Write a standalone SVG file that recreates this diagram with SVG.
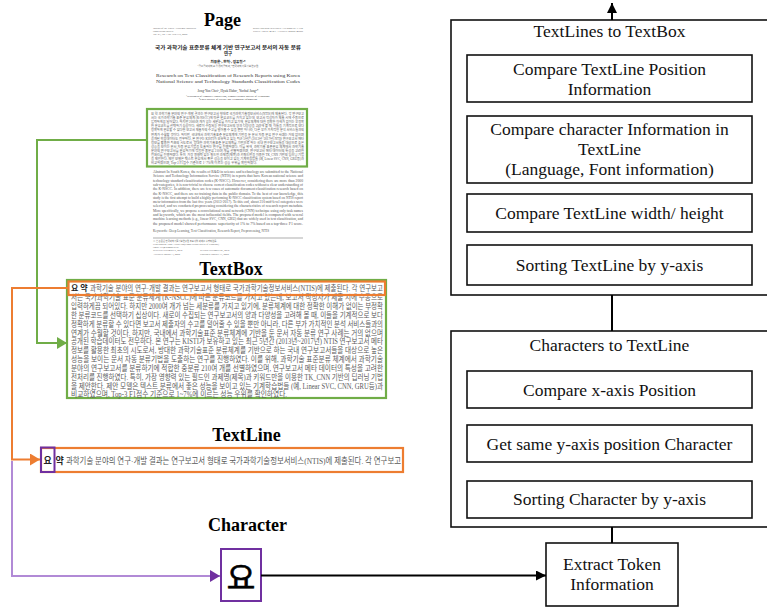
<svg xmlns="http://www.w3.org/2000/svg" width="767" height="613" viewBox="0 0 767 613">
<style>
.serif{font-family:"Liberation Serif","Times New Roman",serif}
.title{font-family:"Liberation Serif","Times New Roman",serif;font-weight:bold;font-size:18px;text-anchor:middle;fill:#000}
.lbl{font-family:"Liberation Serif","Times New Roman",serif;font-size:17.5px;text-anchor:middle;fill:#111}
.box{fill:#fff;stroke:#111;stroke-width:1.6}
.kr{font-family:"Liberation Serif","Noto Sans CJK KR",serif;fill:#5a5a5a}
.krb{font-family:"Liberation Serif","Noto Sans CJK KR",serif;fill:#222;font-weight:bold}
.tiny{font-family:"Liberation Serif","Noto Sans CJK KR",serif;fill:#666}
.conn{fill:none;stroke-width:2}
</style>
<defs>
<marker id="ag" markerUnits="userSpaceOnUse" markerWidth="11" markerHeight="12" refX="10" refY="6" orient="auto"><path d="M0,0 L10,6 L0,12 z" fill="#70AD47"/></marker>
<marker id="ao" markerUnits="userSpaceOnUse" markerWidth="11" markerHeight="12" refX="10" refY="6" orient="auto"><path d="M0,0 L10,6 L0,12 z" fill="#ED7D31"/></marker>
<marker id="ap" markerUnits="userSpaceOnUse" markerWidth="11" markerHeight="12" refX="10" refY="6" orient="auto"><path d="M0,0 L10,6 L0,12 z" fill="#7030A0"/></marker>
<marker id="ab" markerUnits="userSpaceOnUse" markerWidth="11" markerHeight="10" refX="10" refY="5" orient="auto"><path d="M0,0 L10,5 L0,10 z" fill="#000"/></marker>
</defs>
<rect width="767" height="613" fill="#fff"/>

<!-- Page -->
<g id="page">
<text class="title" x="222.5" y="26">Page</text>
<g class="tiny" font-size="2.6">
<text x="153" y="29">Journal of the Korea Academia-Industrial</text>
<text x="153" y="32">cooperation Society</text>
<text x="153" y="35">Vol. 21, No. 1 pp. 169-175, 2020</text>
<text x="253" y="29" textLength="50" lengthAdjust="spacingAndGlyphs">https://doi.org/10.5762/KAIS.2020.21.1.169</text>
<text x="253" y="32" textLength="50" lengthAdjust="spacingAndGlyphs">ISSN 1975-4701 / eISSN 2288-4688</text>
</g>
<g class="krb" font-size="4.4" text-anchor="middle" fill="#333">
<text x="228" y="49" textLength="146" lengthAdjust="spacingAndGlyphs">국가 과학기술 표준분류 체계 기반 연구보고서 문서의 자동 분류</text>
<text x="228" y="55">연구</text>
<text x="228" y="63" font-size="3.6">최종윤¹, 한혁¹, 정유철²*</text>
</g>
<text class="tiny" x="228" y="67" font-size="2.6" text-anchor="middle">¹금오공과대학교 컴퓨터공학과, ²한국과학기술정보연구원</text>
<g class="serif" fill="#333" font-size="5" text-anchor="middle">
<text x="228" y="77" textLength="144" lengthAdjust="spacingAndGlyphs">Research on Text Classification of Research Reports using Korea</text>
<text x="228" y="83" textLength="144" lengthAdjust="spacingAndGlyphs">National Science and Technology Standards Classification Codes</text>
<text x="228" y="92" font-size="3.4">Jong-Yun Choi¹, Hyuk Hahn¹, Yuchul Jung²*</text>
<text x="228" y="96.5" font-size="2.6">¹Department of Computer Engineering, Kumoh National Institute of Technology</text>
<text x="228" y="100" font-size="2.6">²Korea Institute of Science and Technology Information</text>
</g>
<g class="kr" font-size="3.4" fill="#444">
<text x="151" y="115" textLength="153" lengthAdjust="spacingAndGlyphs">요 약  과학기술 분야의 연구·개발 결과는 연구보고서 형태로 국가과학기술정보서비스(NTIS)에 제출된다. 각 연구보고</text>
<text x="151" y="119.1" textLength="153" lengthAdjust="spacingAndGlyphs">서는 국가과학기술 표준 분류체계 (K-NSCC)에 따른 분류코드를 가지고 있는데, 보고서 작성자가 제출 시에 수동으로</text>
<text x="151" y="123.2" textLength="153" lengthAdjust="spacingAndGlyphs">입력하게끔 되어있다. 하지만 2000여 개가 넘는 세분류를 가지고 있기에, 분류체계에 대한 정확한 이해가 없이는 부정확</text>
<text x="151" y="127.3" textLength="153" lengthAdjust="spacingAndGlyphs">한 분류코드를 선택하기 십상이다. 새로이 수집되는 연구보고서의 양과 다양성을 고려해 볼 때, 이들을 기계적으로 보다</text>
<text x="151" y="131.4" textLength="153" lengthAdjust="spacingAndGlyphs">정확하게 분류할 수 있다면 보고서 제출자의 수고를 덜어줄 수 있을 뿐만 아니라, 다른 부가 가치적인 분석 서비스들과의</text>
<text x="151" y="135.5" textLength="153" lengthAdjust="spacingAndGlyphs">연계가 수월할 것이다. 하지만, 국내에서 과학기술표준 분류체계에 기반을 둔 문서 자동 분류 연구 사례는 거의 없으며</text>
<text x="151" y="139.6" textLength="153" lengthAdjust="spacingAndGlyphs">공개된 학습데이터도 전무하다. 본 연구는 KISTI가 보유하고 있는 최근 5년간 (2013년~2017년) NTIS 연구보고서 메타</text>
<text x="151" y="143.7" textLength="153" lengthAdjust="spacingAndGlyphs">정보를 활용한 최초의 시도로서, 방대한 과학기술표준 분류체계를 기반으로 하는 국내 연구보고서들을 대상으로 높은</text>
<text x="151" y="147.8" textLength="153" lengthAdjust="spacingAndGlyphs">성능을 보이는 문서 자동 분류기법을 도출하는 연구를 진행하였다. 이를 위해, 과학기술 표준분류 체계에서 과학기술</text>
<text x="151" y="151.9" textLength="153" lengthAdjust="spacingAndGlyphs">분야의 연구보고서를 분류하기에 적합한 중분류 210여 개를 선별하였으며, 연구보고서 메타 데이터의 특성을 고려한</text>
<text x="151" y="156" textLength="153" lengthAdjust="spacingAndGlyphs">전처리를 진행하였다. 특히, 가장 영향력 있는 필드인 과제명(제목)과 키워드만을 이용한 TK_CNN 기반의 딥러닝 기법</text>
<text x="151" y="160.1" textLength="153" lengthAdjust="spacingAndGlyphs">을 제안한다. 제안 모델은 텍스트 분류에서 좋은 성능을 보이고 있는 기계학습법들 (예, Linear SVC, CNN, GRU등)과</text>
<text x="151" y="164.2" textLength="106" lengthAdjust="spacingAndGlyphs">비교하였으며, Top-3 F1점수 기준으로 1~7%에 이르는 성능 우위를 확인하였다.</text>
</g>
<rect x="147" y="109" width="160" height="57.5" fill="none" stroke="#70AD47" stroke-width="2.2"/>
<g class="serif" font-size="3.4" fill="#555">
<text x="153" y="173" textLength="150" lengthAdjust="spacingAndGlyphs">Abstract  In South Korea, the results of R&amp;D in science and technology are submitted to the National</text>
<text x="153" y="177.3" textLength="150" lengthAdjust="spacingAndGlyphs">Science and Technology Information Service (NTIS) in reports that have Korean national science and</text>
<text x="153" y="181.6" textLength="150" lengthAdjust="spacingAndGlyphs">technology standard classification codes (K-NSCC). However, considering there are more than 2000</text>
<text x="153" y="185.9" textLength="150" lengthAdjust="spacingAndGlyphs">sub-categories, it is non-trivial to choose correct classification codes without a clear understanding of</text>
<text x="153" y="190.2" textLength="150" lengthAdjust="spacingAndGlyphs">the K-NSCC. In addition, there are few cases of automatic document classification research based on</text>
<text x="153" y="194.5" textLength="150" lengthAdjust="spacingAndGlyphs">the K-NSCC, and there are no training data in the public domain. To the best of our knowledge, this</text>
<text x="153" y="198.8" textLength="150" lengthAdjust="spacingAndGlyphs">study is the first attempt to build a highly performing K-NSCC classification system based on NTIS report</text>
<text x="153" y="203.1" textLength="150" lengthAdjust="spacingAndGlyphs">meta-information from the last five years (2013-2017). To this end, about 210 mid-level categories were</text>
<text x="153" y="207.4" textLength="150" lengthAdjust="spacingAndGlyphs">selected, and we conducted preprocessing considering the characteristics of research report metadata.</text>
<text x="153" y="211.7" textLength="150" lengthAdjust="spacingAndGlyphs">More specifically, we propose a convolutional neural network (CNN) technique using only task names</text>
<text x="153" y="216" textLength="150" lengthAdjust="spacingAndGlyphs">and keywords, which are the most influential fields. The proposed model is compared with several</text>
<text x="153" y="220.3" textLength="150" lengthAdjust="spacingAndGlyphs">machine learning methods (e.g., linear SVC, CNN, GRU) that are widely used in text classification, and</text>
<text x="153" y="224.6" textLength="150" lengthAdjust="spacingAndGlyphs">the proposed model showed performance superiority of 1% to 7% based on a top-three F1 score.</text>
<text x="153" y="232" textLength="116" lengthAdjust="spacingAndGlyphs">Keywords : Deep Learning, Text Classification, Research Report, Preprocessing, NTIS</text>
</g>
<line x1="153" y1="238" x2="303" y2="238" stroke="#777" stroke-width="0.6"/>
<g class="tiny" font-size="2.6">
<text x="153" y="241.5" textLength="64" lengthAdjust="spacingAndGlyphs">※ 본 논문은 한국과학기술정보연구원 주요사업 과제로 수행되었음.</text>
<text x="153" y="244.8" textLength="66" lengthAdjust="spacingAndGlyphs">*Corresponding Author : Yuchul Jung(Kumoh National Institute of Technology)</text>
<text x="153" y="248">email: jyc@kumoh.ac.kr</text>
<text x="153" y="251.3">Received December 5, 2019</text>
<text x="153" y="254.6">Accepted January 3, 2020</text>
<text x="200" y="251.3">Revised December 26, 2019</text>
<text x="200" y="254.6">Published January 31, 2020</text>
</g>
</g>

<!-- TextBox -->
<g id="textbox">
<text class="title" x="231" y="275">TextBox</text>
<rect x="67" y="280" width="319" height="118" fill="#fff" stroke="#70AD47" stroke-width="2.2"/>
<text class="krb" x="71" y="291" font-size="8">요 약</text>
<g class="kr" font-size="8">
<text x="90" y="291" textLength="293" lengthAdjust="spacingAndGlyphs">과학기술 분야의 연구·개발 결과는 연구보고서 형태로 국가과학기술정보서비스(NTIS)에 제출된다. 각 연구보고</text>
<text x="71" y="299.9" textLength="312" lengthAdjust="spacingAndGlyphs">서는 국가과학기술 표준 분류체계 (K-NSCC)에 따른 분류코드를 가지고 있는데, 보고서 작성자가 제출 시에 수동으로</text>
<text x="71" y="308.8" textLength="312" lengthAdjust="spacingAndGlyphs">입력하게끔 되어있다. 하지만 2000여 개가 넘는 세분류를 가지고 있기에, 분류체계에 대한 정확한 이해가 없이는 부정확</text>
<text x="71" y="317.7" textLength="312" lengthAdjust="spacingAndGlyphs">한 분류코드를 선택하기 십상이다. 새로이 수집되는 연구보고서의 양과 다양성을 고려해 볼 때, 이들을 기계적으로 보다</text>
<text x="71" y="326.6" textLength="312" lengthAdjust="spacingAndGlyphs">정확하게 분류할 수 있다면 보고서 제출자의 수고를 덜어줄 수 있을 뿐만 아니라, 다른 부가 가치적인 분석 서비스들과의</text>
<text x="71" y="335.5" textLength="312" lengthAdjust="spacingAndGlyphs">연계가 수월할 것이다. 하지만, 국내에서 과학기술표준 분류체계에 기반을 둔 문서 자동 분류 연구 사례는 거의 없으며</text>
<text x="71" y="344.4" textLength="312" lengthAdjust="spacingAndGlyphs">공개된 학습데이터도 전무하다. 본 연구는 KISTI가 보유하고 있는 최근 5년간 (2013년~2017년) NTIS 연구보고서 메타</text>
<text x="71" y="353.3" textLength="312" lengthAdjust="spacingAndGlyphs">정보를 활용한 최초의 시도로서, 방대한 과학기술표준 분류체계를 기반으로 하는 국내 연구보고서들을 대상으로 높은</text>
<text x="71" y="362.2" textLength="312" lengthAdjust="spacingAndGlyphs">성능을 보이는 문서 자동 분류기법을 도출하는 연구를 진행하였다. 이를 위해, 과학기술 표준분류 체계에서 과학기술</text>
<text x="71" y="371.1" textLength="312" lengthAdjust="spacingAndGlyphs">분야의 연구보고서를 분류하기에 적합한 중분류 210여 개를 선별하였으며, 연구보고서 메타 데이터의 특성을 고려한</text>
<text x="71" y="380" textLength="312" lengthAdjust="spacingAndGlyphs">전처리를 진행하였다. 특히, 가장 영향력 있는 필드인 과제명(제목)과 키워드만을 이용한 TK_CNN 기반의 딥러닝 기법</text>
<text x="71" y="388.9" textLength="312" lengthAdjust="spacingAndGlyphs">을 제안한다. 제안 모델은 텍스트 분류에서 좋은 성능을 보이고 있는 기계학습법들 (예, Linear SVC, CNN, GRU등)과</text>
<text x="71" y="397" textLength="216" lengthAdjust="spacingAndGlyphs">비교하였으며, Top-3 F1점수 기준으로 1~7%에 이르는 성능 우위를 확인하였다.</text>
</g>
<rect x="68.5" y="281.5" width="316.5" height="13.5" fill="none" stroke="#ED7D31" stroke-width="2.2"/>
</g>

<!-- TextLine -->
<g id="textline">
<text class="title" x="246.5" y="441">TextLine</text>
<rect x="41" y="448" width="362" height="24" fill="#fff" stroke="#ED7D31" stroke-width="2.2"/>
<text class="krb" x="43.5" y="463.5" font-size="9">요</text>
<text class="krb" x="55.5" y="463.5" font-size="9">약</text>
<text class="kr" x="66" y="463.5" font-size="9" textLength="335" lengthAdjust="spacingAndGlyphs">과학기술 분야의 연구·개발 결과는 연구보고서 형태로 국가과학기술정보서비스(NTIS)에 제출된다. 각 연구보고</text>
<rect x="41" y="447.5" width="13.5" height="24.5" fill="none" stroke="#7030A0" stroke-width="2"/>
</g>

<!-- Character -->
<g id="character">
<text class="title" x="247.5" y="531">Character</text>
<rect x="221" y="549" width="40" height="52" fill="#fff" stroke="#7030A0" stroke-width="2"/>
<text x="241" y="589" font-family="'Noto Sans CJK KR',sans-serif" font-size="31" text-anchor="middle" fill="#000" stroke="#000" stroke-width="0.7">요</text>
</g>

<!-- TextLines to TextBox -->
<g id="textlines-to-textbox">
<rect class="box" x="451" y="20" width="330" height="275"/>
<text class="lbl" x="609.5" y="37">TextLines to TextBox</text>
<rect class="box" x="467" y="55" width="285" height="47"/>
<text class="lbl" x="609.5" y="75">Compare TextLine  Position</text>
<text class="lbl" x="609.5" y="95">Information</text>
<rect class="box" x="467" y="116" width="285" height="67"/>
<text class="lbl" x="609.5" y="135">Compare character Information in</text>
<text class="lbl" x="609.5" y="155">TextLine</text>
<text class="lbl" x="609.5" y="175">(Language, Font information)</text>
<rect class="box" x="467" y="194" width="285" height="38"/>
<text class="lbl" x="609.5" y="218.5">Compare TextLine width/ height</text>
<rect class="box" x="467" y="245" width="285" height="40"/>
<text class="lbl" x="609.5" y="271">Sorting TextLine by y-axis</text>
</g>

<!-- Characters to TextLine -->
<g id="characters-to-textline">
<rect class="box" x="451" y="331" width="330" height="196"/>
<text class="lbl" x="609.5" y="351">Characters to TextLine</text>
<rect class="box" x="467" y="371" width="285" height="37"/>
<text class="lbl" x="609.5" y="396">Compare x-axis Position</text>
<rect class="box" x="467" y="425" width="285" height="37"/>
<text class="lbl" x="609.5" y="450">Get same y-axis position Character</text>
<rect class="box" x="467" y="481" width="285" height="37"/>
<text class="lbl" x="609.5" y="505">Sorting Character by y-axis</text>
</g>

<!-- Extract Token Information -->
<g id="extract-token">
<rect class="box" x="546" y="543" width="132" height="63"/>
<text class="lbl" x="612" y="570">Extract Token</text>
<text class="lbl" x="612" y="590">Information</text>
</g>

<!-- Connectors -->
<g id="connectors">
<path class="conn" d="M147,140 H37 V343 H67" stroke="#70AD47" marker-end="url(#ag)"/>
<path class="conn" d="M68.5,288 H12 V459.5 H40" stroke="#ED7D31" marker-end="url(#ao)"/>
<path class="conn" d="M12,461 V576 H220" stroke="#B18AD6" marker-end="url(#ap)"/>
<path class="conn" d="M261,575.5 H546" stroke="#000" stroke-width="2.6" marker-end="url(#ab)"/>
<path class="conn" d="M612,295 V331" stroke="#000" stroke-width="2.2"/>
<path class="conn" d="M612,527 V543" stroke="#000" stroke-width="2.2"/>
<path class="conn" d="M612,20 V3" stroke="#000" stroke-width="2.2" marker-end="url(#ab)"/>
</g>
</svg>
